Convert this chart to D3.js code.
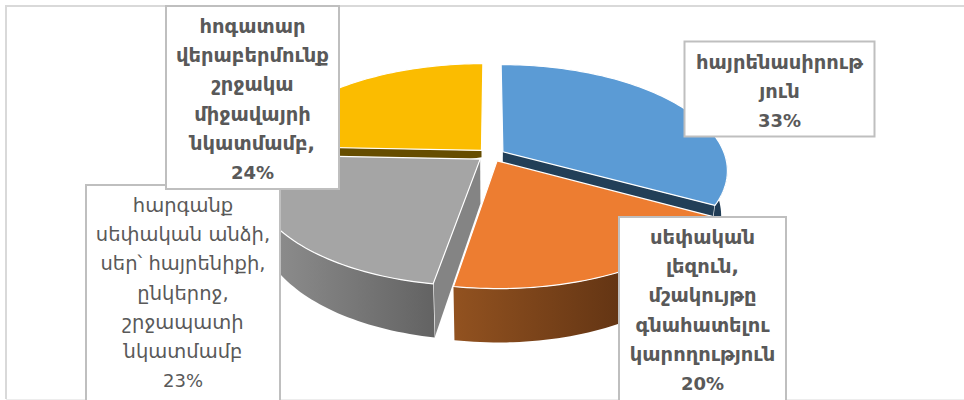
<!DOCTYPE html>
<html>
<head>
<meta charset="utf-8">
<script src="https://cdn.jsdelivr.net/npm/d3@7"></script>
<style>
  html, body { margin: 0; padding: 0; background: #fff; overflow: hidden; }
  svg { display: block; }
</style>
</head>
<body>
<svg id="chart" width="964" height="400"></svg>
<script>
// ---- Data ----
const categories = ["hayrenasirutyun", "lezu", "hargank", "hogatar"];
const values = [33, 19.65, 23, 24.35];
const percents = ["33%", "20%", "23%", "24%"];
const labelLines = [
  ["հայրենասիրութ", "յուն"],
  ["սեփական", "լեզուն,", "մշակույթը", "գնահատելու", "կարողություն"],
  ["հարգանք", "սեփական անձի,", "սեր՝ հայրենիքի,", "ընկերոջ,", "շրջապատի", "նկատմամբ"],
  ["հոգատար", "վերաբերմունք", "շրջակա", "միջավայրի", "նկատմամբ,"]
];
const topColors = ["#5B9BD5", "#ED7D31", "#A5A5A5", "#FBBC00"];
const wallLeft = ["#2A4A66", "#925220", "#929292", "#664D00"];
const wallRight = ["#1F3B54", "#4A250D", "#636363", "#664D00"];
const cutColors = ["#223F58", "#7A4419", "#848484", "#664D00"];
const labelBold = [true, true, false, true];
const labelBoxes = [
  { x: 684.5, y: 41.5, w: 190, h: 95 },
  { x: 619, y: 217, w: 167, h: 190 },
  { x: 86, y: 185, w: 194, h: 222 },
  { x: 166, y: 6, w: 173, h: 183 }
];

// ---- Projection of the tilted, exploded pie ----
const cx = 491, cy = 155;
const explode = 0.0625, k = 0.1736, sx = 222, sy = 103.3, depth = 44;
// gold's cut face only shows as a thin band above the grey slice
const apexDepths = [depth, depth, depth, 7];

function project(X, Y, z) {
  const w = 1 + k * Y;
  const shrink = 1 - (z || 0) * 0.0006;
  return [cx + sx * X / w * shrink, cy - sy * Y / w + (z || 0) / w];
}

const svg = d3.select("#chart");
const defs = svg.append("defs");
const pie = d3.pie().sort(null).value(d => d)(values);

function rimPoints(a0, a1, off, z) {
  const n = Math.max(2, Math.ceil((a1 - a0) * 40));
  return d3.range(n + 1).map(i => {
    const a = a0 + (a1 - a0) * i / n;
    return project(off[0] + Math.sin(a), off[1] + Math.cos(a), z);
  });
}

const line = d3.line();

// ---- Painter's order: gold, blue, grey, orange ----
[3, 0, 2, 1].forEach(i => {
  const s = pie[i];
  const mid = (s.startAngle + s.endAngle) / 2;
  const off = [explode * Math.sin(mid), explode * Math.cos(mid)];
  const apexTop = project(off[0], off[1], 0);
  const apexBot = project(off[0], off[1], apexDepths[i]);
  const topRim = rimPoints(s.startAngle, s.endAngle, off, 0);
  const botRim = rimPoints(s.startAngle, s.endAngle, off, depth);
  const last = topRim.length - 1;
  const g = svg.append("g").attr("class", "slice " + categories[i]);

  // flat cut faces, only the ones turned towards the viewer
  if (Math.sin(s.startAngle) < -1e-6) {
    g.append("path").attr("d", line([apexTop, topRim[0], botRim[0], apexBot]) + "Z")
      .attr("fill", cutColors[i]);
    g.append("path").attr("d", line([topRim[0], botRim[0]]))
      .attr("stroke", "#fff").attr("stroke-width", 1.2);
  }
  if (Math.sin(s.endAngle) > 1e-6) {
    g.append("path").attr("d", line([apexTop, topRim[last], botRim[last], apexBot]) + "Z")
      .attr("fill", cutColors[i]);
    g.append("path").attr("d", line([topRim[last], botRim[last]]))
      .attr("stroke", "#fff").attr("stroke-width", 1.2);
  }

  // outer curved wall with a horizontal gradient, front half of the rim only
  const w0 = Math.max(s.startAngle, Math.PI / 2);
  const w1 = Math.min(s.endAngle, 3 * Math.PI / 2);
  if (w1 > w0) {
    const wallTop = rimPoints(w0, w1, off, 0);
    const wallBot = rimPoints(w0, w1, off, depth);
    const xs = topRim.map(p => p[0]);
    const grad = defs.append("linearGradient")
      .attr("id", "wall" + i).attr("gradientUnits", "userSpaceOnUse")
      .attr("x1", d3.min(xs)).attr("x2", d3.max(xs)).attr("y1", 0).attr("y2", 0);
    grad.append("stop").attr("offset", 0).attr("stop-color", wallLeft[i]);
    grad.append("stop").attr("offset", 1).attr("stop-color", wallRight[i]);
    g.append("path").attr("d", line(wallTop.concat(wallBot.slice().reverse())) + "Z")
      .attr("fill", "url(#wall" + i + ")");
  }

  // top face
  g.append("path").attr("d", line([apexTop].concat(topRim)) + "Z")
    .attr("fill", topColors[i]).attr("stroke", "#fff").attr("stroke-width", 1.2)
    .attr("stroke-linejoin", "round");
});

// ---- Frame (no right edge in the picture) ----
svg.append("path").attr("d", "M964,6H6V399")
  .attr("fill", "none").attr("stroke", "#D9D9D9").attr("stroke-width", 2);
svg.append("path").attr("d", "M6,399.5H964")
  .attr("fill", "none").attr("stroke", "#EDEDED").attr("stroke-width", 1);

// ---- Labels ----
const lineHeight = 29.2;
[2, 0, 1, 3].forEach(i => {
  const b = labelBoxes[i];
  const lines = labelLines[i].concat([percents[i]]);
  const g = svg.append("g").attr("class", "label");
  g.append("rect").attr("x", b.x).attr("y", b.y).attr("width", b.w).attr("height", b.h)
    .attr("fill", "#fff").attr("stroke", "#BFBFBF").attr("stroke-width", 2);
  g.append("text")
    .attr("font-family", "'DejaVu Sans', sans-serif")
    .attr("font-weight", labelBold[i] ? 700 : 400)
    .attr("fill", "#595959")
    .attr("text-anchor", "middle")
    .selectAll("tspan").data(lines).join("tspan")
    .attr("x", b.x + b.w / 2)
    .attr("y", (d, j) => b.y + 27 + j * lineHeight)
    .attr("font-size", (d, j) => j === lines.length - 1 ? 18 : 19.5)
    .text(d => d);
});
</script>
</body>
</html>
